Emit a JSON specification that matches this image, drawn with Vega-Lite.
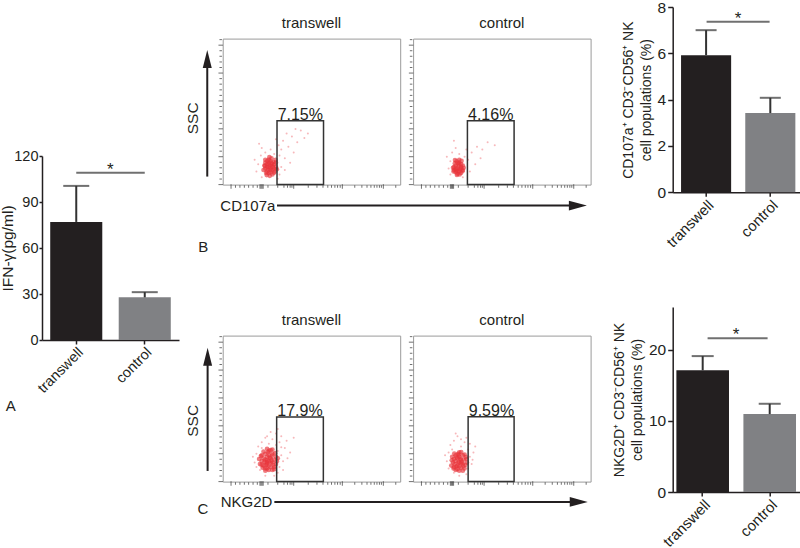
{
"$schema": "https://vega.github.io/schema/vega-lite/v6.json",
"padding": {"left": 0, "top": 0, "right": 0, "bottom": 0},
"autosize": {"type": "pad"},
"background": "white",
"config": {
  "font": "Liberation Sans",
  "view": {"stroke": null},
  "axis": {"domainColor": "#231f20", "tickColor": "#231f20", "labelColor": "#231f20", "titleColor": "#231f20", "domainWidth": 1.5, "tickWidth": 1.5, "grid": false, "titleFontWeight": "normal", "labelFont": "Liberation Sans", "titleFont": "Liberation Sans"},
  "title": {"fontWeight": "normal", "color": "#231f20", "font": "Liberation Sans"},
  "text": {"color": "#231f20", "font": "Liberation Sans"}
},
"datasets": {
  "ifn": [{"group": "transwell", "mean": 77, "upper": 100.5}, {"group": "control", "mean": 27.8, "upper": 31.2}],
  "cd107a": [{"group": "transwell", "mean": 5.92, "upper": 7.0}, {"group": "control", "mean": 3.42, "upper": 4.08}],
  "nkg2d": [{"group": "transwell", "mean": 17.1, "upper": 19.1}, {"group": "control", "mean": 10.95, "upper": 12.4}],
  "gates": [
    {"panel": "B", "group": "transwell", "x1": 30.6, "x2": 56.8, "bottom": 0, "top": 43.8, "label": "7.15%"},
    {"panel": "B", "group": "control", "x1": 30.6, "x2": 56.9, "bottom": 0, "top": 43.8, "label": "4.16%"},
    {"panel": "C", "group": "transwell", "x1": 30.4, "x2": 56.7, "bottom": 0, "top": 44.3, "label": "17.9%"},
    {"panel": "C", "group": "control", "x1": 31, "x2": 56.9, "bottom": 0, "top": 44.5, "label": "9.59%"}
  ],
  "yticks": [
    {"kind": "major", "edge": 0, "pos": 0}, {"kind": "major", "edge": 0, "pos": 19.1}, {"kind": "major", "edge": 0, "pos": 38.2}, {"kind": "major", "edge": 0, "pos": 57.3}, {"kind": "major", "edge": 0, "pos": 76.4}, {"kind": "major", "edge": 0, "pos": 95.5},
    {"kind": "minor", "edge": 0, "pos": 3.8}, {"kind": "minor", "edge": 0, "pos": 7.6}, {"kind": "minor", "edge": 0, "pos": 11.5}, {"kind": "minor", "edge": 0, "pos": 15.3}, {"kind": "minor", "edge": 0, "pos": 22.9}, {"kind": "minor", "edge": 0, "pos": 26.7}, {"kind": "minor", "edge": 0, "pos": 30.6}, {"kind": "minor", "edge": 0, "pos": 34.4}, {"kind": "minor", "edge": 0, "pos": 42}, {"kind": "minor", "edge": 0, "pos": 45.8}, {"kind": "minor", "edge": 0, "pos": 49.7}, {"kind": "minor", "edge": 0, "pos": 53.5}, {"kind": "minor", "edge": 0, "pos": 61.1}, {"kind": "minor", "edge": 0, "pos": 64.9}, {"kind": "minor", "edge": 0, "pos": 68.8}, {"kind": "minor", "edge": 0, "pos": 72.6}, {"kind": "minor", "edge": 0, "pos": 80.2}, {"kind": "minor", "edge": 0, "pos": 84}, {"kind": "minor", "edge": 0, "pos": 87.9}, {"kind": "minor", "edge": 0, "pos": 91.7}, {"kind": "minor", "edge": 0, "pos": 99.3}
  ],
  "xticks": [
    {"kind": "major", "edge": 0, "pos": 4.7}, {"kind": "major", "edge": 0, "pos": 21}, {"kind": "major", "edge": 0, "pos": 21.6}, {"kind": "major", "edge": 0, "pos": 22.2}, {"kind": "major", "edge": 0, "pos": 22.8}, {"kind": "major", "edge": 0, "pos": 40}, {"kind": "major", "edge": 0, "pos": 67.4}, {"kind": "major", "edge": 0, "pos": 90.5},
    {"kind": "minor", "edge": 0, "pos": 7.2}, {"kind": "minor", "edge": 0, "pos": 9.7}, {"kind": "minor", "edge": 0, "pos": 12.2}, {"kind": "minor", "edge": 0, "pos": 14.6}, {"kind": "minor", "edge": 0, "pos": 17.1}, {"kind": "minor", "edge": 0, "pos": 19.5}, {"kind": "minor", "edge": 0, "pos": 25.5}, {"kind": "minor", "edge": 0, "pos": 31}, {"kind": "minor", "edge": 0, "pos": 34.5}, {"kind": "minor", "edge": 0, "pos": 36.5}, {"kind": "minor", "edge": 0, "pos": 38}, {"kind": "minor", "edge": 0, "pos": 39}, {"kind": "minor", "edge": 0, "pos": 48.2}, {"kind": "minor", "edge": 0, "pos": 53.1}, {"kind": "minor", "edge": 0, "pos": 56.5}, {"kind": "minor", "edge": 0, "pos": 59.2}, {"kind": "minor", "edge": 0, "pos": 61.3}, {"kind": "minor", "edge": 0, "pos": 63.2}, {"kind": "minor", "edge": 0, "pos": 64.7}, {"kind": "minor", "edge": 0, "pos": 66.2}, {"kind": "minor", "edge": 0, "pos": 74.4}, {"kind": "minor", "edge": 0, "pos": 78.4}, {"kind": "minor", "edge": 0, "pos": 81.3}, {"kind": "minor", "edge": 0, "pos": 83.5}, {"kind": "minor", "edge": 0, "pos": 85.4}, {"kind": "minor", "edge": 0, "pos": 86.9}, {"kind": "minor", "edge": 0, "pos": 88.3}, {"kind": "minor", "edge": 0, "pos": 89.4}, {"kind": "minor", "edge": 0, "pos": 97.5}
  ],
  "bt_core": [{"x":26,"y":12},{"x":27,"y":10},{"x":25,"y":14},{"x":28,"y":13},{"x":24,"y":11},{"x":26,"y":8},{"x":27,"y":16},{"x":29,"y":11},{"x":25,"y":9},{"x":28,"y":7},{"x":26,"y":17},{"x":24,"y":15},{"x":27,"y":13},{"x":29,"y":14},{"x":25,"y":12},{"x":28,"y":10},{"x":23.5,"y":13},{"x":26.5,"y":6},{"x":30,"y":12},{"x":27.5,"y":18},{"x":24.5,"y":8},{"x":29.5,"y":9},{"x":26,"y":15},{"x":25.5,"y":10.5},{"x":28.5,"y":15.5},{"x":27,"y":8.5},{"x":24,"y":17},{"x":30,"y":15},{"x":23,"y":10},{"x":26.8,"y":11.2},{"x":25.2,"y":16.3},{"x":28.2,"y":12.1},{"x":29.8,"y":17},{"x":24.8,"y":6.5},{"x":27.6,"y":14.6},{"x":26.3,"y":18.8},{"x":30.5,"y":10.5},{"x":23.8,"y":12.8},{"x":25.9,"y":13.7},{"x":28.9,"y":8.2}],
  "bt_halo": [{"x":20,"y":14},{"x":21.5,"y":20},{"x":19,"y":9},{"x":22,"y":25},{"x":24,"y":22},{"x":20.5,"y":28},{"x":32,"y":20},{"x":33,"y":24},{"x":35,"y":18},{"x":31.5,"y":27},{"x":34,"y":30},{"x":37,"y":26},{"x":39,"y":33},{"x":42,"y":29},{"x":36,"y":35},{"x":44,"y":37},{"x":40,"y":22},{"x":46,"y":32},{"x":33,"y":12},{"x":32,"y":7},{"x":35,"y":10},{"x":31,"y":4},{"x":38,"y":15},{"x":22,"y":5},{"x":18,"y":17},{"x":30,"y":31},{"x":27,"y":24},{"x":29,"y":21},{"x":48,"y":35},{"x":41,"y":38}],
  "bc_core": [{"x":25,"y":11},{"x":26,"y":9},{"x":24,"y":13},{"x":27,"y":12},{"x":23,"y":10},{"x":25,"y":7.5},{"x":26,"y":15},{"x":28,"y":10},{"x":24,"y":8.5},{"x":27,"y":14},{"x":25.5,"y":12.5},{"x":23.5,"y":14.5},{"x":26.5,"y":10.5},{"x":28,"y":13},{"x":24.5,"y":16},{"x":25,"y":9.5},{"x":27,"y":8},{"x":23,"y":12},{"x":26,"y":17},{"x":24,"y":11},{"x":28.5,"y":11.5},{"x":25.8,"y":13.8},{"x":22.8,"y":9},{"x":27.3,"y":16.2},{"x":24.7,"y":6.6},{"x":26.2,"y":7},{"x":23.6,"y":16.8},{"x":27.8,"y":9.2},{"x":25.1,"y":14.9},{"x":26.9,"y":11.1},{"x":22.5,"y":11.5},{"x":24.2,"y":9.7}],
  "bc_halo": [{"x":21,"y":16},{"x":22,"y":22},{"x":20,"y":11},{"x":24,"y":25},{"x":23,"y":30},{"x":26,"y":21},{"x":29,"y":19},{"x":31,"y":17},{"x":33,"y":22},{"x":36,"y":26},{"x":39,"y":24},{"x":42,"y":29},{"x":46,"y":27},{"x":35,"y":14},{"x":30,"y":24},{"x":19,"y":19},{"x":21,"y":7},{"x":28,"y":5},{"x":32,"y":9},{"x":38,"y":18}],
  "ct_core": [{"x":26,"y":14},{"x":25,"y":12},{"x":27,"y":16},{"x":24,"y":15},{"x":28,"y":13},{"x":23,"y":11},{"x":26,"y":18},{"x":29,"y":15},{"x":25,"y":9},{"x":27,"y":10},{"x":22,"y":14},{"x":24,"y":19},{"x":28,"y":19},{"x":30,"y":12},{"x":26,"y":11},{"x":23,"y":16},{"x":27,"y":13},{"x":25,"y":17},{"x":29,"y":10},{"x":24,"y":9},{"x":21,"y":12},{"x":26,"y":21},{"x":28,"y":8},{"x":22,"y":18},{"x":30,"y":17},{"x":25,"y":14.5},{"x":27.5,"y":14.5},{"x":23.5,"y":13.5},{"x":26.5,"y":16.5},{"x":24.5,"y":11.5},{"x":28.5,"y":11.5},{"x":22.5,"y":9.5},{"x":29.5,"y":19.5},{"x":25.5,"y":20},{"x":27,"y":21.5},{"x":23,"y":20.5},{"x":20.5,"y":15.5},{"x":30.5,"y":14},{"x":26,"y":8},{"x":24,"y":7.5},{"x":28,"y":22},{"x":21.5,"y":17.5},{"x":29,"y":8.5},{"x":25,"y":22.5},{"x":31,"y":16},{"x":22,"y":11.5},{"x":27.8,"y":17.8},{"x":24.8,"y":13.2}],
  "ct_halo": [{"x":18,"y":13},{"x":19,"y":19},{"x":20,"y":24},{"x":22,"y":27},{"x":24,"y":30},{"x":26,"y":26},{"x":28,"y":29},{"x":30,"y":25},{"x":31,"y":21},{"x":32,"y":27},{"x":33,"y":18},{"x":34,"y":14},{"x":32,"y":10},{"x":31,"y":6},{"x":33,"y":31},{"x":30,"y":33},{"x":27,"y":34},{"x":21,"y":8},{"x":19,"y":10},{"x":17,"y":17},{"x":35,"y":23},{"x":36,"y":28},{"x":34,"y":8},{"x":29,"y":4},{"x":24,"y":4},{"x":22,"y":23},{"x":38,"y":20},{"x":40,"y":30},{"x":31,"y":36},{"x":25,"y":31},{"x":33,"y":23.5},{"x":36.5,"y":16}],
  "cc_core": [{"x":26,"y":13},{"x":25,"y":11},{"x":27,"y":15},{"x":24,"y":14},{"x":28,"y":12},{"x":23,"y":10},{"x":26,"y":17},{"x":28.5,"y":15},{"x":25,"y":8.5},{"x":27,"y":9.5},{"x":22.5,"y":13},{"x":24,"y":18},{"x":28,"y":18},{"x":29.5,"y":11.5},{"x":26,"y":10.5},{"x":23,"y":15.5},{"x":27,"y":12.5},{"x":25,"y":16},{"x":29,"y":9},{"x":24,"y":8},{"x":21.5,"y":11},{"x":26,"y":20},{"x":28,"y":7.5},{"x":22,"y":17},{"x":30,"y":15.5},{"x":25.5,"y":13.5},{"x":27.5,"y":13.5},{"x":23.5,"y":12},{"x":26.5,"y":15.5},{"x":24.5,"y":10.5},{"x":28.3,"y":10.6},{"x":22.8,"y":9},{"x":29,"y":18.5},{"x":25.3,"y":19},{"x":27.1,"y":20.2},{"x":23.2,"y":19.2},{"x":30.3,"y":13},{"x":26,"y":7.5},{"x":24.4,"y":16.6},{"x":21.8,"y":14.6},{"x":29.7,"y":16.8},{"x":25.8,"y":18.2}],
  "cc_halo": [{"x":19,"y":14},{"x":20,"y":20},{"x":21,"y":25},{"x":23,"y":28},{"x":25,"y":31},{"x":27,"y":24},{"x":29,"y":27},{"x":31,"y":22},{"x":32,"y":17},{"x":33,"y":12},{"x":31,"y":9},{"x":30,"y":5},{"x":23,"y":6},{"x":20,"y":9},{"x":18,"y":18},{"x":32,"y":26},{"x":34,"y":20},{"x":30,"y":30},{"x":27,"y":29},{"x":22,"y":22},{"x":33.5,"y":15},{"x":26,"y":4},{"x":35,"y":24},{"x":24,"y":33}]
},
"spacing": 5.7,
"hconcat": [
  {
    "bounds": "flush",
    "spacing": 148,
    "vconcat": [
      {"width": 1, "height": 1, "data": {"values": []}, "mark": {"type": "point"}, "encoding": {}},
      {
        "width": 137, "height": 184,
        "data": {"name": "ifn"},
        "title": {"text": "A", "orient": "bottom", "anchor": "start", "frame": "bounds", "fontSize": 15, "offset": 4, "dx": 5},
        "encoding": {"x": {"field": "group", "type": "nominal", "sort": ["transwell", "control"], "scale": {"paddingInner": 0.24, "paddingOuter": 0.12}, "axis": {"title": null, "labelAngle": -45, "labelFontSize": 14.5, "tickSize": 4, "labelPadding": 1}}},
        "layer": [
          {"mark": {"type": "bar"}, "encoding": {"y": {"field": "mean", "type": "quantitative", "scale": {"domain": [0, 120]}, "axis": {"values": [0, 30, 60, 90, 120], "title": "IFN-γ(pg/ml)", "titleFontSize": 15.5, "labelFontSize": 14.5, "tickSize": 3, "labelPadding": 1, "titlePadding": -2}}, "color": {"field": "group", "type": "nominal", "scale": {"domain": ["transwell", "control"], "range": ["#231f20", "#808184"]}, "legend": null}}},
          {"mark": {"type": "rule", "color": "#333333", "strokeWidth": 2}, "encoding": {"y": {"field": "mean", "type": "quantitative"}, "y2": {"field": "upper"}}},
          {"mark": {"type": "tick", "color": "#333333", "thickness": 2, "size": 26, "orient": "horizontal"}, "encoding": {"y": {"field": "upper", "type": "quantitative"}}},
          {"data": {"values": [{"group": "transwell", "level": 109}]}, "mark": {"type": "tick", "color": "#333333", "thickness": 2, "size": 68.5, "orient": "horizontal", "xOffset": 34.25}, "encoding": {"y": {"field": "level", "type": "quantitative"}}},
          {"data": {"values": [{"group": "transwell", "level": 109, "star": "*"}]}, "mark": {"type": "text", "fontSize": 17, "dx": 34, "dy": 2, "baseline": "alphabetic", "align": "center"}, "encoding": {"y": {"field": "level", "type": "quantitative"}, "text": {"field": "star", "type": "nominal"}}}
        ]
      }
    ]
  },
  {
    "spacing": 21,
    "hconcat": [
      {
        "spacing": 6.6,
        "vconcat": [
          {"width": 1, "height": 1, "data": {"values": []}, "mark": {"type": "point"}, "encoding": {}},
          {
            "columns": 2,
            "bounds": "flush",
            "spacing": {"row": 151, "column": 12.4},
            "concat": [
              {
                "width": 177.5, "height": 146,
                "view": {"stroke": "#9a9a9a", "strokeWidth": 1},
                "title": {"text": "transwell", "fontSize": 15, "offset": 8, "anchor": "middle"},
                "layer": [
                  {"data": {"name": "yticks"}, "mark": {"type": "tick", "orient": "horizontal", "color": "#333333", "thickness": 1, "xOffset": -2}, "encoding": {"x": {"field": "edge", "type": "quantitative", "scale": {"domain": [0, 100], "nice": false, "zero": false}, "axis": null}, "y": {"field": "pos", "type": "quantitative", "scale": {"domain": [0, 100], "nice": false, "zero": false}, "axis": null}, "size": {"field": "kind", "type": "ordinal", "scale": {"domain": ["major", "minor"], "range": [4.5, 2.5]}, "legend": null}}},
                  {"data": {"name": "xticks"}, "mark": {"type": "tick", "orient": "vertical", "color": "#333333", "thickness": 1, "yOffset": 2}, "encoding": {"x": {"field": "pos", "type": "quantitative", "axis": null}, "y": {"field": "edge", "type": "quantitative", "axis": null}, "size": {"field": "kind", "type": "ordinal", "scale": {"domain": ["major", "minor"], "range": [4.5, 2.5]}, "legend": null}}},
                  {"data": {"name": "bt_halo"}, "mark": {"type": "circle", "color": "#e8343b", "opacity": 0.35, "size": 4}, "encoding": {"x": {"field": "x", "type": "quantitative", "axis": null}, "y": {"field": "y", "type": "quantitative", "axis": null}}},
                  {"data": {"name": "bt_core"}, "mark": {"type": "circle", "color": "#e8343b", "opacity": 0.65, "size": 22}, "encoding": {"x": {"field": "x", "type": "quantitative", "axis": null}, "y": {"field": "y", "type": "quantitative", "axis": null}}},
                  {"data": {"name": "gates"}, "transform": [{"filter": "datum.panel == 'B' && datum.group == 'transwell'"}], "mark": {"type": "rect", "filled": false, "stroke": "#333333", "strokeWidth": 1.5}, "encoding": {"x": {"field": "x1", "type": "quantitative", "axis": null}, "x2": {"field": "x2"}, "y": {"field": "bottom", "type": "quantitative", "axis": null}, "y2": {"field": "top"}}},
                  {"data": {"name": "gates"}, "transform": [{"filter": "datum.panel == 'B' && datum.group == 'transwell'"}], "mark": {"type": "text", "fontSize": 16, "align": "center", "baseline": "alphabetic", "dx": 23.3, "dy": -1}, "encoding": {"x": {"field": "x1", "type": "quantitative", "axis": null}, "y": {"field": "top", "type": "quantitative", "axis": null}, "text": {"field": "label", "type": "nominal"}}},
                  {"data": {"values": [{"x": -8.7, "y": 5.5, "y2": 86}]}, "mark": {"type": "rule", "color": "#231f20", "strokeWidth": 2}, "encoding": {"x": {"field": "x", "type": "quantitative", "axis": null}, "y": {"field": "y", "type": "quantitative", "axis": null}, "y2": {"field": "y2"}}},
                  {"data": {"values": [{"x": -8.7, "y": 86}]}, "mark": {"type": "point", "shape": "M-0.5,1L0,-1L0.5,1Z", "filled": true, "color": "#231f20", "size": 324, "opacity": 1}, "encoding": {"x": {"field": "x", "type": "quantitative", "axis": null}, "y": {"field": "y", "type": "quantitative", "axis": null}}},
                  {"data": {"values": [{"x": 30.6, "x2": 200.1, "y": -14.4}]}, "mark": {"type": "rule", "color": "#231f20", "strokeWidth": 2}, "encoding": {"x": {"field": "x", "type": "quantitative", "axis": null}, "x2": {"field": "x2"}, "y": {"field": "y", "type": "quantitative", "axis": null}}},
                  {"data": {"values": [{"x": 200.1, "y": -14.4}]}, "mark": {"type": "point", "shape": "M-1,-0.55L1,0L-1,0.55Z", "filled": true, "color": "#231f20", "size": 324, "opacity": 1}, "encoding": {"x": {"field": "x", "type": "quantitative", "axis": null}, "y": {"field": "y", "type": "quantitative", "axis": null}}},
                  {"data": {"values": [{"x": -16.9, "y": 45.4, "label": "SSC"}]}, "mark": {"type": "text", "fontSize": 15.5, "angle": 270, "align": "center", "baseline": "middle"}, "encoding": {"x": {"field": "x", "type": "quantitative", "axis": null}, "y": {"field": "y", "type": "quantitative", "axis": null}, "text": {"field": "label", "type": "nominal"}}},
                  {"data": {"values": [{"x": -1.35, "y": -14.7, "label": "CD107a"}]}, "mark": {"type": "text", "fontSize": 15, "align": "left", "baseline": "middle"}, "encoding": {"x": {"field": "x", "type": "quantitative", "axis": null}, "y": {"field": "y", "type": "quantitative", "axis": null}, "text": {"field": "label", "type": "nominal"}}},
                  {"data": {"values": [{"x": -11, "y": -42.5, "label": "B"}]}, "mark": {"type": "text", "fontSize": 15, "align": "center", "baseline": "middle"}, "encoding": {"x": {"field": "x", "type": "quantitative", "axis": null}, "y": {"field": "y", "type": "quantitative", "axis": null}, "text": {"field": "label", "type": "nominal"}}}
                ]
              },
              {
                "width": 177.5, "height": 146,
                "view": {"stroke": "#9a9a9a", "strokeWidth": 1},
                "title": {"text": "control", "fontSize": 15, "offset": 8, "anchor": "middle"},
                "layer": [
                  {"data": {"name": "yticks"}, "mark": {"type": "tick", "orient": "horizontal", "color": "#333333", "thickness": 1, "xOffset": -2}, "encoding": {"x": {"field": "edge", "type": "quantitative", "scale": {"domain": [0, 100], "nice": false, "zero": false}, "axis": null}, "y": {"field": "pos", "type": "quantitative", "scale": {"domain": [0, 100], "nice": false, "zero": false}, "axis": null}, "size": {"field": "kind", "type": "ordinal", "scale": {"domain": ["major", "minor"], "range": [4.5, 2.5]}, "legend": null}}},
                  {"data": {"name": "xticks"}, "mark": {"type": "tick", "orient": "vertical", "color": "#333333", "thickness": 1, "yOffset": 2}, "encoding": {"x": {"field": "pos", "type": "quantitative", "axis": null}, "y": {"field": "edge", "type": "quantitative", "axis": null}, "size": {"field": "kind", "type": "ordinal", "scale": {"domain": ["major", "minor"], "range": [4.5, 2.5]}, "legend": null}}},
                  {"data": {"name": "bc_halo"}, "mark": {"type": "circle", "color": "#e8343b", "opacity": 0.35, "size": 4}, "encoding": {"x": {"field": "x", "type": "quantitative", "axis": null}, "y": {"field": "y", "type": "quantitative", "axis": null}}},
                  {"data": {"name": "bc_core"}, "mark": {"type": "circle", "color": "#e8343b", "opacity": 0.65, "size": 22}, "encoding": {"x": {"field": "x", "type": "quantitative", "axis": null}, "y": {"field": "y", "type": "quantitative", "axis": null}}},
                  {"data": {"name": "gates"}, "transform": [{"filter": "datum.panel == 'B' && datum.group == 'control'"}], "mark": {"type": "rect", "filled": false, "stroke": "#333333", "strokeWidth": 1.5}, "encoding": {"x": {"field": "x1", "type": "quantitative", "axis": null}, "x2": {"field": "x2"}, "y": {"field": "bottom", "type": "quantitative", "axis": null}, "y2": {"field": "top"}}},
                  {"data": {"name": "gates"}, "transform": [{"filter": "datum.panel == 'B' && datum.group == 'control'"}], "mark": {"type": "text", "fontSize": 16, "align": "center", "baseline": "alphabetic", "dx": 23.3, "dy": -1}, "encoding": {"x": {"field": "x1", "type": "quantitative", "axis": null}, "y": {"field": "top", "type": "quantitative", "axis": null}, "text": {"field": "label", "type": "nominal"}}}
                ]
              },
              {
                "width": 177.5, "height": 146,
                "view": {"stroke": "#9a9a9a", "strokeWidth": 1},
                "title": {"text": "transwell", "fontSize": 15, "offset": 8, "anchor": "middle"},
                "layer": [
                  {"data": {"name": "yticks"}, "mark": {"type": "tick", "orient": "horizontal", "color": "#333333", "thickness": 1, "xOffset": -2}, "encoding": {"x": {"field": "edge", "type": "quantitative", "scale": {"domain": [0, 100], "nice": false, "zero": false}, "axis": null}, "y": {"field": "pos", "type": "quantitative", "scale": {"domain": [0, 100], "nice": false, "zero": false}, "axis": null}, "size": {"field": "kind", "type": "ordinal", "scale": {"domain": ["major", "minor"], "range": [4.5, 2.5]}, "legend": null}}},
                  {"data": {"name": "xticks"}, "mark": {"type": "tick", "orient": "vertical", "color": "#333333", "thickness": 1, "yOffset": 2}, "encoding": {"x": {"field": "pos", "type": "quantitative", "axis": null}, "y": {"field": "edge", "type": "quantitative", "axis": null}, "size": {"field": "kind", "type": "ordinal", "scale": {"domain": ["major", "minor"], "range": [4.5, 2.5]}, "legend": null}}},
                  {"data": {"name": "ct_halo"}, "mark": {"type": "circle", "color": "#e8343b", "opacity": 0.35, "size": 4}, "encoding": {"x": {"field": "x", "type": "quantitative", "axis": null}, "y": {"field": "y", "type": "quantitative", "axis": null}}},
                  {"data": {"name": "ct_core"}, "mark": {"type": "circle", "color": "#e8343b", "opacity": 0.65, "size": 22}, "encoding": {"x": {"field": "x", "type": "quantitative", "axis": null}, "y": {"field": "y", "type": "quantitative", "axis": null}}},
                  {"data": {"name": "gates"}, "transform": [{"filter": "datum.panel == 'C' && datum.group == 'transwell'"}], "mark": {"type": "rect", "filled": false, "stroke": "#333333", "strokeWidth": 1.5}, "encoding": {"x": {"field": "x1", "type": "quantitative", "axis": null}, "x2": {"field": "x2"}, "y": {"field": "bottom", "type": "quantitative", "axis": null}, "y2": {"field": "top"}}},
                  {"data": {"name": "gates"}, "transform": [{"filter": "datum.panel == 'C' && datum.group == 'transwell'"}], "mark": {"type": "text", "fontSize": 16, "align": "center", "baseline": "alphabetic", "dx": 23.3, "dy": -1}, "encoding": {"x": {"field": "x1", "type": "quantitative", "axis": null}, "y": {"field": "top", "type": "quantitative", "axis": null}, "text": {"field": "label", "type": "nominal"}}},
                  {"data": {"values": [{"x": -8.5, "y": 7.3, "y2": 85.5}]}, "mark": {"type": "rule", "color": "#231f20", "strokeWidth": 2}, "encoding": {"x": {"field": "x", "type": "quantitative", "axis": null}, "y": {"field": "y", "type": "quantitative", "axis": null}, "y2": {"field": "y2"}}},
                  {"data": {"values": [{"x": -8.5, "y": 85.5}]}, "mark": {"type": "point", "shape": "M-0.5,1L0,-1L0.5,1Z", "filled": true, "color": "#231f20", "size": 324, "opacity": 1}, "encoding": {"x": {"field": "x", "type": "quantitative", "axis": null}, "y": {"field": "y", "type": "quantitative", "axis": null}}},
                  {"data": {"values": [{"x": 29.1, "x2": 200.6, "y": -13.9}]}, "mark": {"type": "rule", "color": "#231f20", "strokeWidth": 2}, "encoding": {"x": {"field": "x", "type": "quantitative", "axis": null}, "x2": {"field": "x2"}, "y": {"field": "y", "type": "quantitative", "axis": null}}},
                  {"data": {"values": [{"x": 200.6, "y": -13.9}]}, "mark": {"type": "point", "shape": "M-1,-0.55L1,0L-1,0.55Z", "filled": true, "color": "#231f20", "size": 324, "opacity": 1}, "encoding": {"x": {"field": "x", "type": "quantitative", "axis": null}, "y": {"field": "y", "type": "quantitative", "axis": null}}},
                  {"data": {"values": [{"x": -16.5, "y": 41.6, "label": "SSC"}]}, "mark": {"type": "text", "fontSize": 15.5, "angle": 270, "align": "center", "baseline": "middle"}, "encoding": {"x": {"field": "x", "type": "quantitative", "axis": null}, "y": {"field": "y", "type": "quantitative", "axis": null}, "text": {"field": "label", "type": "nominal"}}},
                  {"data": {"values": [{"x": -1.1, "y": -13.9, "label": "NKG2D"}]}, "mark": {"type": "text", "fontSize": 15, "align": "left", "baseline": "middle"}, "encoding": {"x": {"field": "x", "type": "quantitative", "axis": null}, "y": {"field": "y", "type": "quantitative", "axis": null}, "text": {"field": "label", "type": "nominal"}}},
                  {"data": {"values": [{"x": -11.1, "y": -18.5, "label": "C"}]}, "mark": {"type": "text", "fontSize": 15, "align": "center", "baseline": "middle"}, "encoding": {"x": {"field": "x", "type": "quantitative", "axis": null}, "y": {"field": "y", "type": "quantitative", "axis": null}, "text": {"field": "label", "type": "nominal"}}}
                ]
              },
              {
                "width": 177.5, "height": 146,
                "view": {"stroke": "#9a9a9a", "strokeWidth": 1},
                "title": {"text": "control", "fontSize": 15, "offset": 8, "anchor": "middle"},
                "layer": [
                  {"data": {"name": "yticks"}, "mark": {"type": "tick", "orient": "horizontal", "color": "#333333", "thickness": 1, "xOffset": -2}, "encoding": {"x": {"field": "edge", "type": "quantitative", "scale": {"domain": [0, 100], "nice": false, "zero": false}, "axis": null}, "y": {"field": "pos", "type": "quantitative", "scale": {"domain": [0, 100], "nice": false, "zero": false}, "axis": null}, "size": {"field": "kind", "type": "ordinal", "scale": {"domain": ["major", "minor"], "range": [4.5, 2.5]}, "legend": null}}},
                  {"data": {"name": "xticks"}, "mark": {"type": "tick", "orient": "vertical", "color": "#333333", "thickness": 1, "yOffset": 2}, "encoding": {"x": {"field": "pos", "type": "quantitative", "axis": null}, "y": {"field": "edge", "type": "quantitative", "axis": null}, "size": {"field": "kind", "type": "ordinal", "scale": {"domain": ["major", "minor"], "range": [4.5, 2.5]}, "legend": null}}},
                  {"data": {"name": "cc_halo"}, "mark": {"type": "circle", "color": "#e8343b", "opacity": 0.35, "size": 4}, "encoding": {"x": {"field": "x", "type": "quantitative", "axis": null}, "y": {"field": "y", "type": "quantitative", "axis": null}}},
                  {"data": {"name": "cc_core"}, "mark": {"type": "circle", "color": "#e8343b", "opacity": 0.65, "size": 22}, "encoding": {"x": {"field": "x", "type": "quantitative", "axis": null}, "y": {"field": "y", "type": "quantitative", "axis": null}}},
                  {"data": {"name": "gates"}, "transform": [{"filter": "datum.panel == 'C' && datum.group == 'control'"}], "mark": {"type": "rect", "filled": false, "stroke": "#333333", "strokeWidth": 1.5}, "encoding": {"x": {"field": "x1", "type": "quantitative", "axis": null}, "x2": {"field": "x2"}, "y": {"field": "bottom", "type": "quantitative", "axis": null}, "y2": {"field": "top"}}},
                  {"data": {"name": "gates"}, "transform": [{"filter": "datum.panel == 'C' && datum.group == 'control'"}], "mark": {"type": "text", "fontSize": 16, "align": "center", "baseline": "alphabetic", "dx": 23.3, "dy": -1}, "encoding": {"x": {"field": "x1", "type": "quantitative", "axis": null}, "y": {"field": "top", "type": "quantitative", "axis": null}, "text": {"field": "label", "type": "nominal"}}}
                ]
              }
            ]
          }
        ]
      },
      {
        "spacing": 57,
        "vconcat": [
          {
            "width": 131, "height": 185.3,
            "data": {"name": "cd107a"},
            "encoding": {"x": {"field": "group", "type": "nominal", "sort": ["transwell", "control"], "scale": {"paddingInner": 0.22, "paddingOuter": 0.13}, "axis": {"title": null, "labelAngle": -45, "labelFontSize": 15, "tickSize": 4, "labelPadding": 1}}},
            "layer": [
              {"mark": {"type": "bar"}, "encoding": {"y": {"field": "mean", "type": "quantitative", "scale": {"domain": [0, 8]}, "axis": {"values": [0, 2, 4, 6, 8], "title": ["CD107a⁺ CD3⁻CD56⁺ NK", "cell populations (%)"], "titleFontSize": 14, "titleLineHeight": 18, "labelFontSize": 15.5, "tickSize": 5, "labelPadding": 2, "titlePadding": 3.5}}, "color": {"field": "group", "type": "nominal", "scale": {"domain": ["transwell", "control"], "range": ["#231f20", "#808184"]}, "legend": null}}},
              {"mark": {"type": "rule", "color": "#333333", "strokeWidth": 2}, "encoding": {"y": {"field": "mean", "type": "quantitative"}, "y2": {"field": "upper"}}},
              {"mark": {"type": "tick", "color": "#333333", "thickness": 2, "size": 21, "orient": "horizontal"}, "encoding": {"y": {"field": "upper", "type": "quantitative"}}},
              {"data": {"values": [{"group": "transwell", "level": 7.36}]}, "mark": {"type": "tick", "color": "#333333", "thickness": 2, "size": 63, "orient": "horizontal", "xOffset": 32}, "encoding": {"y": {"field": "level", "type": "quantitative"}}},
              {"data": {"values": [{"group": "transwell", "level": 7.36, "star": "*"}]}, "mark": {"type": "text", "fontSize": 17, "dx": 32, "dy": 2, "baseline": "alphabetic", "align": "center"}, "encoding": {"y": {"field": "level", "type": "quantitative"}, "text": {"field": "star", "type": "nominal"}}}
            ]
          },
          {
            "width": 127, "height": 185,
            "data": {"name": "nkg2d"},
            "encoding": {"x": {"field": "group", "type": "nominal", "sort": ["transwell", "control"], "scale": {"paddingInner": 0.215, "paddingOuter": 0.055}, "axis": {"title": null, "labelAngle": -45, "labelFontSize": 15, "tickSize": 4, "labelPadding": 1}}},
            "layer": [
              {"mark": {"type": "bar"}, "encoding": {"y": {"field": "mean", "type": "quantitative", "scale": {"domain": [0, 25]}, "axis": {"values": [0, 5, 10, 15, 20, 25], "title": ["NKG2D⁺ CD3⁻CD56⁺ NK", "cell populations (%)"], "titleFontSize": 14, "titleLineHeight": 18, "labelFontSize": 15.5, "tickSize": 5, "labelPadding": 2, "titlePadding": 3.5}}, "color": {"field": "group", "type": "nominal", "scale": {"domain": ["transwell", "control"], "range": ["#231f20", "#808184"]}, "legend": null}}},
              {"mark": {"type": "rule", "color": "#333333", "strokeWidth": 2}, "encoding": {"y": {"field": "mean", "type": "quantitative"}, "y2": {"field": "upper"}}},
              {"mark": {"type": "tick", "color": "#333333", "thickness": 2, "size": 22, "orient": "horizontal"}, "encoding": {"y": {"field": "upper", "type": "quantitative"}}},
              {"data": {"values": [{"group": "transwell", "level": 21.6}]}, "mark": {"type": "tick", "color": "#333333", "thickness": 2, "size": 60, "orient": "horizontal", "xOffset": 34.9}, "encoding": {"y": {"field": "level", "type": "quantitative"}}},
              {"data": {"values": [{"group": "transwell", "level": 21.6, "star": "*"}]}, "mark": {"type": "text", "fontSize": 17, "dx": 33.3, "dy": 2, "baseline": "alphabetic", "align": "center"}, "encoding": {"y": {"field": "level", "type": "quantitative"}, "text": {"field": "star", "type": "nominal"}}}
            ]
          }
        ]
      }
    ]
  }
]
}
